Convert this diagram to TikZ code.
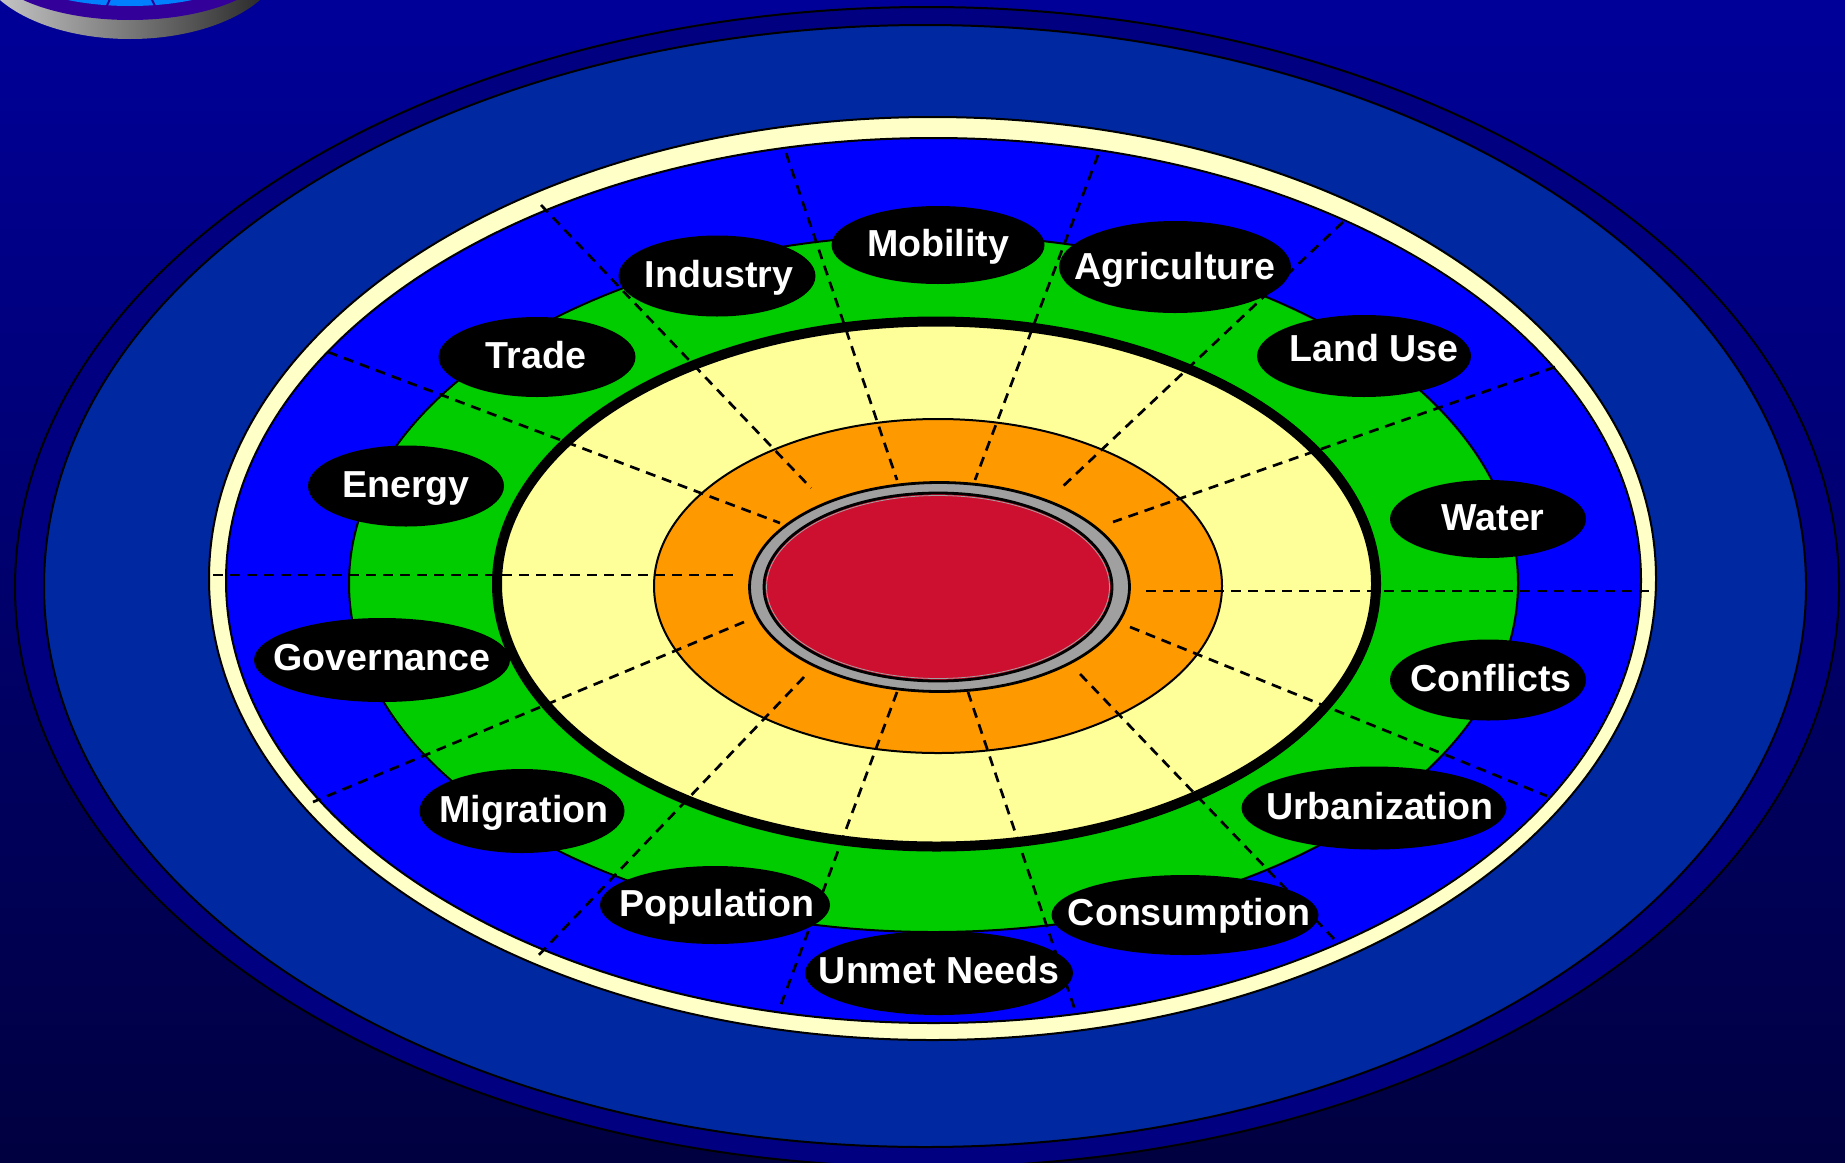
\documentclass[tikz,border=0pt]{standalone}
\usepackage{fontspec}
\setmainfont{Liberation Sans}
\usetikzlibrary{shapes.geometric}
\definecolor{bgtop}{RGB}{0,0,153}
\definecolor{bgbot}{RGB}{0,0,64}
\definecolor{navyband}{RGB}{0,0,128}
\definecolor{ringblue}{RGB}{0,40,160}
\definecolor{creamc}{RGB}{255,255,200}
\definecolor{blueband}{RGB}{0,0,255}
\definecolor{greenband}{RGB}{0,204,0}
\definecolor{yellowband}{RGB}{255,255,153}
\definecolor{orangeband}{RGB}{255,153,0}
\definecolor{grayring}{RGB}{160,160,160}
\definecolor{redcore}{RGB}{206,16,48}
\definecolor{logopurple}{RGB}{51,0,153}
\definecolor{logoblue}{RGB}{0,128,255}
% text centred on the node, shifted right by #1 and up by #2
\newcommand{\lbltxt}[3]{\makebox[0pt]{\kern#1\kern#1\raisebox{\dimexpr-0.31em+#2\relax}[0pt][0pt]{#3}}}
\begin{document}
\begin{tikzpicture}[x=0.5pt,y=-0.5pt,
  lbl/.style={ellipse, fill=black, inner sep=0pt, text=white,
    font=\fontsize{18.8}{22}\selectfont\bfseries},
  sector/.style={draw=black, line width=1.35pt, dash pattern=on 5pt off 3.5pt},
  rim/.style={draw=black, line width=1pt}]
\useasboundingbox (0,0) rectangle (1845,1162);
\shade[top color=bgtop, bottom color=bgbot] (0,0) rectangle (1845,1162);
% corner emblem
\begin{scope}
\clip (0,0) rectangle (1845,1162);
\shade[left color=black!18, right color=black!88] (130,-45) ellipse (154 and 84);
\fill[logopurple] (130,-45) ellipse (148 and 65);
\fill[logoblue] (130,-45) ellipse (132 and 51);
\draw[logopurple, line width=1pt] (130,-45) -- (105,10) (130,-45) -- (157,10);
\end{scope}
% rings
\filldraw[rim, fill=navyband] (927,587) ellipse (912 and 580);
\filldraw[rim, fill=ringblue] (925,586) ellipse (881 and 561);
\filldraw[rim, fill=creamc] (932.5,578.5) ellipse (723.5 and 461.5);
\filldraw[rim, fill=blueband] (933.5,580.5) ellipse (707.5 and 442.5);
\filldraw[rim, fill=greenband] (933.5,583.5) ellipse (584.5 and 348.5);
\filldraw[draw=black, line width=5pt, fill=yellowband] (936.5,584) ellipse (439.5 and 262.5);
\filldraw[rim, fill=orangeband] (938,586) ellipse (284 and 167);
\filldraw[draw=black, line width=1.4pt, fill=grayring] (939.5,587) ellipse (190 and 104.5);
\filldraw[draw=black, line width=1.4pt, fill=redcore] (938,587) ellipse (174 and 94);
\draw[grayring, line width=0.4pt] (938,587) ellipse (171.5 and 91.5);
% sector dividers
\draw[sector] (213,575) -- (739,575);
\draw[sector] (328,352) -- (780,523);
\draw[sector] (541,205) -- (811,488);
\draw[sector] (786,153) -- (897,480);
\draw[sector] (1098,155) -- (975,480);
\draw[sector] (1343,222) -- (1059,490);
\draw[sector] (1555,367) -- (1113,522);
\draw[sector] (1146,591) -- (1653,591);
\draw[sector] (1130,627) -- (1547,796);
\draw[sector] (1080,674) -- (1336,941);
\draw[sector] (968,692) -- (1075,1010);
\draw[sector] (897,692) -- (779,1010);
\draw[sector] (804,677) -- (535,959);
\draw[sector] (744,622) -- (313,802);
% labels
\node[lbl, minimum width=106.5pt, minimum height=39pt] (mobility) at (938,245) {\lbltxt{0pt}{0pt}{Mobility}};
\node[lbl, minimum width=98.5pt, minimum height=40.5pt] (industry) at (717,276) {\lbltxt{1pt}{0pt}{Industry}};
\node[lbl, minimum width=116pt, minimum height=46pt] (agriculture) at (1175,267) {\lbltxt{0pt}{-0.5pt}{Agriculture}};
\node[lbl, minimum width=98.5pt, minimum height=40pt] (trade) at (537,357) {\lbltxt{-0.5pt}{0pt}{Trade}};
\node[lbl, minimum width=107pt, minimum height=41pt] (landuse) at (1364,356) {\lbltxt{5pt}{3pt}{Land Use}};
\node[lbl, minimum width=98pt, minimum height=40.5pt] (energy) at (406,486) {\lbltxt{0pt}{0pt}{Energy}};
\node[lbl, minimum width=98pt, minimum height=39pt] (water) at (1488,519) {\lbltxt{2.5pt}{0pt}{Water}};
\node[lbl, minimum width=128pt, minimum height=42pt] (governance) at (382,660) {\lbltxt{0pt}{0.8pt}{Governance}};
\node[lbl, minimum width=98pt, minimum height=40.5pt] (conflicts) at (1488,680) {\lbltxt{1.5pt}{0pt}{Conflicts}};
\node[lbl, minimum width=102.5pt, minimum height=42pt] (migration) at (522,811) {\lbltxt{1pt}{0pt}{Migration}};
\node[lbl, minimum width=132.5pt, minimum height=41.5pt] (urbanization) at (1374,808) {\lbltxt{3pt}{0pt}{Urbanization}};
\node[lbl, minimum width=115pt, minimum height=39pt] (population) at (715,905) {\lbltxt{1pt}{0pt}{Population}};
\node[lbl, minimum width=133.5pt, minimum height=40pt] (consumption) at (1185,915) {\lbltxt{2pt}{0.5pt}{Consumption}};
\node[lbl, minimum width=134pt, minimum height=42pt] (unmetneeds) at (939,973) {\lbltxt{0pt}{0.5pt}{Unmet Needs}};
\end{tikzpicture}
\end{document}
